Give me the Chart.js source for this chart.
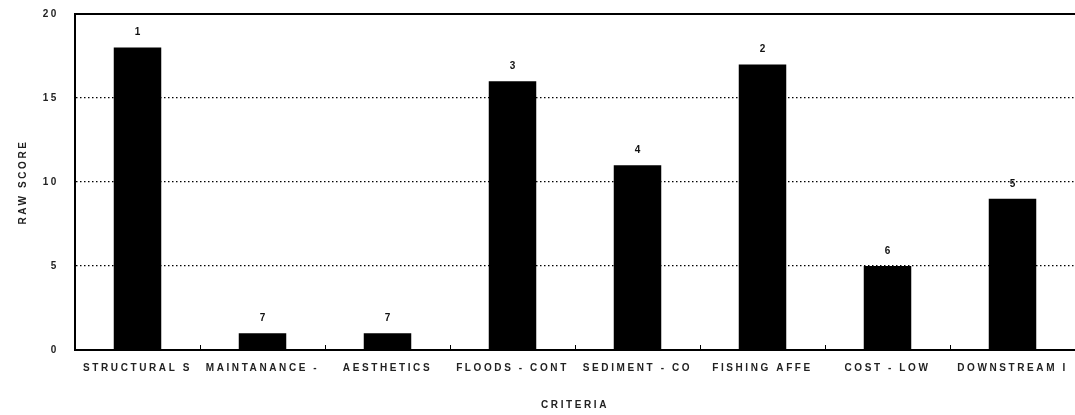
<!DOCTYPE html>
<html>
<head>
<meta charset="utf-8">
<script src="https://cdn.jsdelivr.net/npm/chart.js@4.4.1/dist/chart.umd.min.js"></script>
<style>
  html, body { margin: 0; padding: 0; background: #fff; }
  #wrap { width: 1075px; height: 415px; }
</style>
</head>
<body>
<div id="wrap"><canvas id="chart"></canvas></div>
<script>
// criteria (labels truncated as in the original figure)
const CRITERIA = ['STRUCTURAL S', 'MAINTANANCE -', 'AESTHETICS', 'FLOODS - CONT',
                  'SEDIMENT - CO', 'FISHING AFFE', 'COST - LOW', 'DOWNSTREAM I'];
const RAW_SCORES = [18, 1, 1, 16, 11, 17, 5, 9];
const RANKS = ['1', '7', '7', '3', '4', '2', '6', '5'];
const Y_TICKS = [0, 5, 10, 15, 20];

const FONT = { family: 'Liberation Sans, Arial, sans-serif', size: 10, weight: 'bold' };

// wider letter spacing, like the old bitmap font
const spacingPlugin = {
  id: 'spacing',
  beforeDraw(chart) { chart.ctx.letterSpacing = '2.6px'; }
};

// top frame line, x-axis category tick marks, rank labels
const decorPlugin = {
  id: 'decor',
  afterDatasetsDraw(chart) {
    const { ctx, chartArea, scales } = chart;
    ctx.save();
    ctx.strokeStyle = '#000';
    ctx.lineWidth = 2;
    ctx.beginPath();
    ctx.moveTo(chartArea.left, chartArea.top);
    ctx.lineTo(chartArea.right, chartArea.top);
    ctx.stroke();

    const x = scales.x;
    const half = (x.getPixelForValue(1) - x.getPixelForValue(0)) / 2;
    ctx.lineWidth = 1;
    ctx.beginPath();
    for (let i = 1; i < CRITERIA.length; i++) {
      const px = Math.round(x.getPixelForValue(i) - half) + 0.5;
      ctx.moveTo(px, chartArea.bottom);
      ctx.lineTo(px, chartArea.bottom - 5);
    }
    ctx.stroke();

    ctx.letterSpacing = '0px';
    ctx.fillStyle = '#111';
    ctx.font = 'bold 10px Liberation Sans, Arial, sans-serif';
    ctx.textAlign = 'center';
    ctx.textBaseline = 'bottom';
    const meta = chart.getDatasetMeta(0);
    meta.data.forEach((bar, i) => {
      ctx.fillText(RANKS[i], bar.x, bar.y - 10);
    });
    ctx.restore();
  }
};

new Chart(document.getElementById('chart'), {
  type: 'bar',
  data: {
    labels: CRITERIA,
    datasets: [{
      label: 'Raw score',
      data: RAW_SCORES,
      backgroundColor: '#000',
      borderWidth: 0,
      barPercentage: 0.38,
      categoryPercentage: 1.0
    }]
  },
  options: {
    responsive: true,
    maintainAspectRatio: false,
    animation: false,
    layout: { padding: { top: 14, right: 0, left: 13, bottom: 0 } },
    plugins: {
      legend: { display: false },
      tooltip: { enabled: false }
    },
    scales: {
      x: {
        offset: true,
        grid: { display: false, drawTicks: false },
        border: { display: true, color: '#000', width: 2 },
        ticks: { color: '#222', font: FONT, padding: 12, maxRotation: 0, autoSkip: false },
        title: { display: true, text: 'CRITERIA', color: '#222', font: FONT, padding: { top: 16 } },
        afterFit(scale) { scale.height = 65; scale.paddingLeft = 0; scale.paddingRight = 0; }
      },
      y: {
        min: 0, max: 20,
        afterBuildTicks(scale) { scale.ticks = Y_TICKS.map(v => ({ value: v })); },
        grid: {
          drawTicks: false,
          color: ctx => (ctx.tick.value === 0 || ctx.tick.value === 20) ? 'rgba(0,0,0,0)' : '#000',
          lineWidth: 1.2
        },
        border: { display: true, color: '#000', width: 2, dash: [1.5, 2.5] },
        ticks: { color: '#222', font: FONT, padding: 16 },
        title: { display: true, text: 'RAW SCORE', color: '#222', font: FONT, padding: { bottom: 20 } },
        afterFit(scale) { scale.width = 62; scale.paddingTop = 0; scale.paddingBottom = 0; }
      }
    }
  },
  plugins: [spacingPlugin, decorPlugin]
});
</script>
</body>
</html>
